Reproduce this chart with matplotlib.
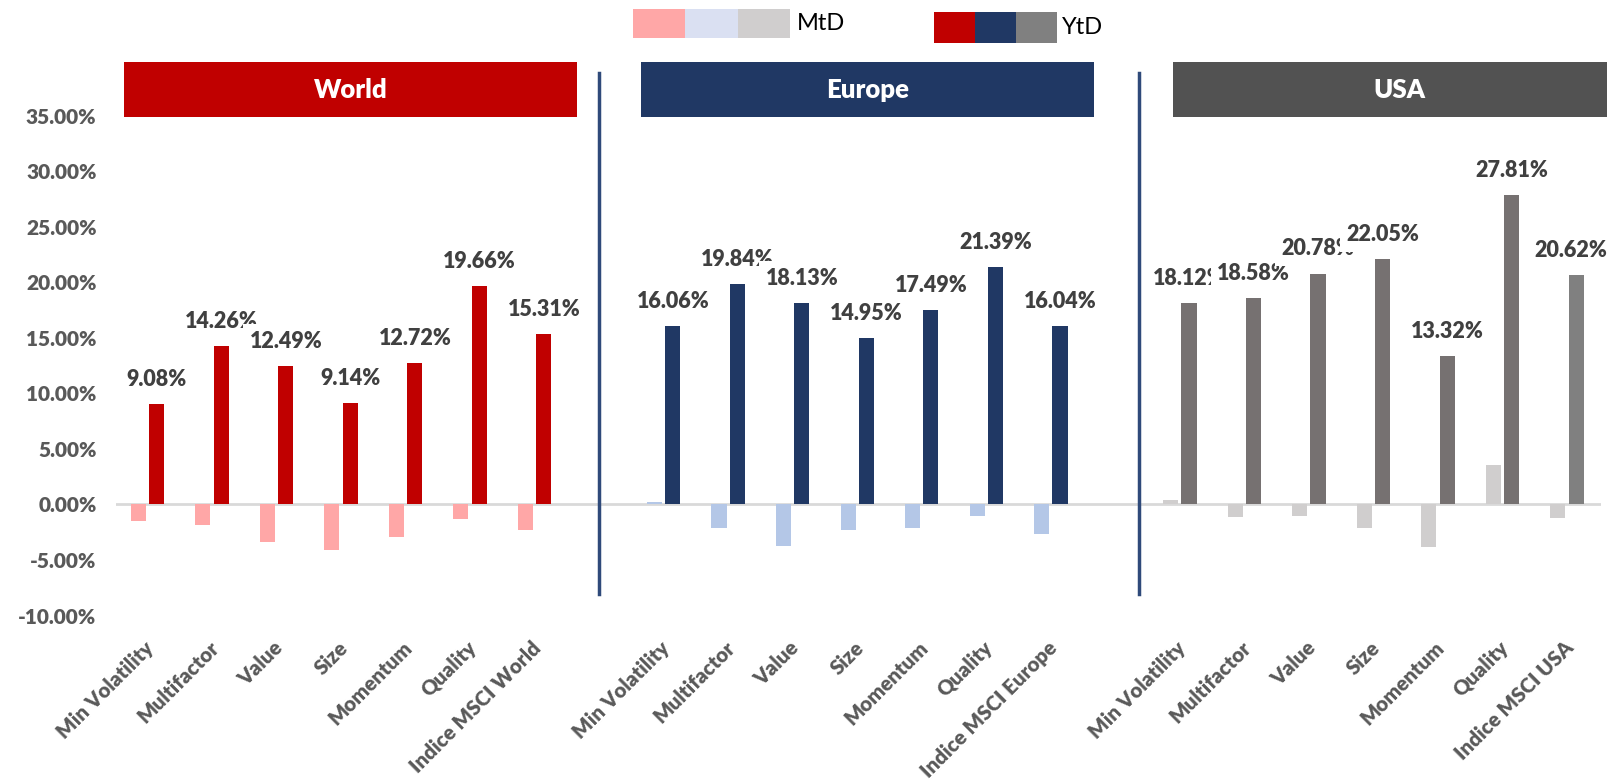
import numpy as np
import matplotlib.pyplot as plt
from matplotlib.patches import Rectangle
from matplotlib.lines import Line2D
from matplotlib.ticker import FuncFormatter

plt.rcParams['font.family'] = ['Lato', 'DejaVu Sans']

# --- data (in %) ---
regions = ['World', 'Europe', 'USA']
factors = ['Min Volatility', 'Multifactor', 'Value', 'Size', 'Momentum', 'Quality']
index_names = ['Indice MSCI World', 'Indice MSCI Europe', 'Indice MSCI USA']

ytd_world = [9.08, 14.26, 12.49, 9.14, 12.72, 19.66, 15.31]
ytd_europe = [16.06, 19.84, 18.13, 14.95, 17.49, 21.39, 16.04]
ytd_usa = [18.12, 18.58, 20.78, 22.05, 13.32, 27.81, 20.62]

mtd_world = [-1.53, -1.89, -3.42, -4.14, -2.97, -1.35, -2.34]
mtd_europe = [0.18, -2.16, -3.78, -2.34, -2.16, -1.08, -2.70]
mtd_usa = [0.42, -1.11, -1.02, -2.10, -3.81, 3.58, -1.20]

ytd_colors = ['#C00000', '#203864', '#767171']
ytd_index_colors = ['#C00000', '#203864', '#808080']
mtd_colors = ['#FFA7A7', '#B4C7E7', '#D0CECE']
header_colors = ['#C00000', '#203864', '#525252']
legend_mtd = ['#FFA7A7', '#DAE0F2', '#D0CECE']
legend_ytd = ['#C00000', '#203864', '#808080']

ytd_all = [ytd_world, ytd_europe, ytd_usa]
mtd_all = [mtd_world, mtd_europe, mtd_usa]

# --- layout helpers (pixel -> figure fraction) ---
W, H = 1608, 784
def fx(x):
    return x / W
def fy(y):
    return 1 - y / H

fig = plt.figure(figsize=(W / 100, H / 100), dpi=100)
ax = fig.add_axes([fx(116), fy(615.6), fx(1601) - fx(116), fy(115.5) - fy(615.6)])

bw = 0.233
off = 0.143
tick_pos = []
tick_lab = []

for g in range(3):
    xs = g * 8 + np.arange(7)
    cols = [ytd_colors[g]] * 6 + [ytd_index_colors[g]]
    ax.bar(xs - off, mtd_all[g], width=bw, color=mtd_colors[g], zorder=2)
    ax.bar(xs + off, ytd_all[g], width=bw, color=cols, zorder=2)
    for j, (x, v) in enumerate(zip(xs, ytd_all[g])):
        # white boxes let each label hide the one before it, like the original
        last = (g == 2 and j == 6)
        box = None if last else dict(boxstyle='square,pad=0.3', fc='white', ec='none')
        dx = -4 if last else 0  # keep the right-most label inside the figure
        ax.annotate(f'{v:.2f}%', (x + off, v), xytext=(dx, 13), textcoords='offset points',
                    ha='center', va='baseline', fontsize=15.5, fontweight='heavy', color='#404040',
                    bbox=box, zorder=5)
    tick_pos += list(xs + 0.05)
    tick_lab += factors + [index_names[g]]

ax.axhline(0, color='#D9D9D9', lw=2, zorder=1)

ax.set_xlim(-0.491, 22.53)
ax.set_ylim(-10, 35)
for s in ax.spines.values():
    s.set_visible(False)

ax.set_yticks(np.arange(-10, 36, 5))
ax.yaxis.set_major_formatter(FuncFormatter(lambda v, _: f'{v:.2f}%'))
ax.tick_params(axis='y', length=0, pad=14, labelsize=15, labelcolor='#595959')
for lbl in ax.get_yticklabels():
    lbl.set_fontweight('heavy')

ax.set_xticks(tick_pos)
ax.set_xticklabels(tick_lab, rotation=45, ha='right', va='center', rotation_mode='anchor',
                   fontsize=14.8, fontweight='heavy', color='#595959')
ax.tick_params(axis='x', length=0, pad=21)

# --- region headers ---
header_x = [124, 641, 1173]
for g in range(3):
    x0 = header_x[g]
    fig.add_artist(Rectangle((fx(x0), fy(117)), fx(453), 55 / H, transform=fig.transFigure,
                             facecolor=header_colors[g], edgecolor='none', zorder=3))
    fig.text(fx(x0 + 226.5), fy(89.5), regions[g], ha='center', va='center', color='white',
             fontsize=18.5, fontweight='heavy', zorder=4)

# --- separators ---
for x in [599, 1139]:
    fig.add_artist(Line2D([fx(x), fx(x)], [fy(73), fy(594)], transform=fig.transFigure,
                          color='#2F4A7A', lw=2.5, zorder=3))

# --- legend ---
for i, c in enumerate(legend_mtd):
    fig.add_artist(Rectangle((fx(633 + i * 52.3), fy(38)), fx(52.3), 29 / H,
                             transform=fig.transFigure, facecolor=c, edgecolor='none'))
fig.text(fx(797), fy(24), 'MtD', ha='left', va='center', fontsize=17, color='black')
for i, c in enumerate(legend_ytd):
    fig.add_artist(Rectangle((fx(934 + i * 41), fy(43)), fx(41), 31 / H,
                             transform=fig.transFigure, facecolor=c, edgecolor='none'))
fig.text(fx(1062), fy(28), 'YtD', ha='left', va='center', fontsize=17, color='black')

fig.savefig('out.png', dpi=100)
